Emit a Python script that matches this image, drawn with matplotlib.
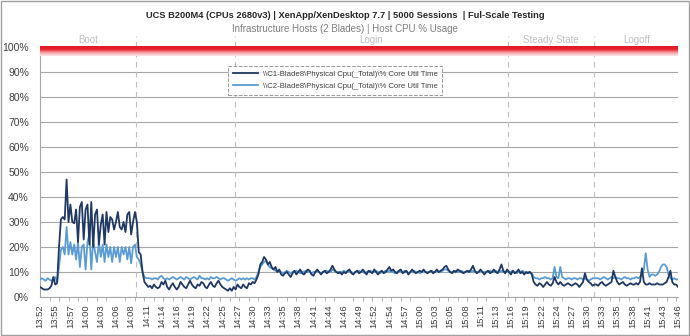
import numpy as np
import matplotlib
matplotlib.use("Agg")
import matplotlib.pyplot as plt
from matplotlib.colors import LinearSegmentedColormap
from matplotlib.patches import Rectangle

# samples every ~20 s, 13:52 -> 15:46
time_labels = ["13:52", "13:55", "13:57", "14:00", "14:03", "14:06", "14:08", "14:11",
               "14:14", "14:16", "14:19", "14:22", "14:25", "14:27", "14:30", "14:33",
               "14:35", "14:38", "14:41", "14:44", "14:46", "14:49", "14:52", "14:54",
               "14:57", "15:00", "15:03", "15:05", "15:08", "15:11", "15:13", "15:16",
               "15:19", "15:22", "15:24", "15:27", "15:30", "15:33", "15:35", "15:38",
               "15:41", "15:43", "15:46"]
label_step = 8

# C1 blade, % core util time
c1_boot = [4, 3.5, 3, 3, 3, 3.5, 4.5, 8, 5, 5.5,
           20, 31, 32, 31, 47, 30, 37, 30, 29.5, 35,
           22, 36, 38, 23, 35, 37, 21, 38, 20, 33,
           35, 21, 29, 33, 21, 34, 26, 32, 31, 27,
           30, 34, 28, 27, 30, 26, 33, 34, 25, 30,
           34, 30, 18, 17, 10, 6, 5, 4]
c1_idle = [4.5, 3.5, 5, 4, 3.5, 4, 6, 5, 6.5, 4,
           3, 4.5, 5.5, 4, 3, 4, 6, 5, 4, 3.5,
           5, 6.5, 5, 4, 3.5, 5, 4.5, 6, 5.5, 4,
           3.5, 5, 6, 4.5, 4, 5.5, 6.5, 5, 4, 3.5,
           3, 2.5, 3.5, 2.5, 4, 3, 5, 4, 3.5, 5,
           4, 3.5, 5.5, 5, 6, 5.5, 7]
c1_login = [9, 13, 14, 16, 15, 13, 14, 12, 11, 12,
            10, 11, 9, 8.5, 9.5, 10, 9, 8, 9.5, 10.5,
            9, 10, 11, 9.5, 9, 10, 11, 10.5, 9, 8.5,
            10, 11, 10, 9, 10, 10.5, 9.5, 10, 11, 12.5,
            11, 10, 9.5, 10, 9, 10, 9.5, 10.5, 11, 9.5,
            9, 10, 10.5, 9.5, 10, 11, 10, 9, 10.5, 10,
            9.5, 11, 10, 9, 10, 10.5, 9.5, 10, 11, 12,
            10.5, 11, 10, 9.5, 10.5, 11, 9.5, 10, 10.5, 9,
            10, 11, 10, 9.5, 10, 10.5, 10, 11, 10, 9.5,
            10, 10.5, 9.5, 10, 11, 10, 10.5, 11, 12, 12.5,
            11, 10, 9.5, 10.5, 10, 11, 10.5, 10, 9.5, 10,
            10.5, 10, 11, 12.5, 10.5, 9.5, 10, 11, 10, 9,
            10, 10.5, 9.5, 10, 11, 10, 9.5, 11, 13, 10.5, 9.5, 11]
c1_steady = [10, 9, 10.5, 9.5, 10, 11, 9.5, 10, 9, 10, 9.5, 10, 9,
             6, 5, 4.5, 5.5, 5, 4, 5, 6, 5, 4.5,
             5.5, 8, 6, 5, 6, 5, 4.5, 5, 5.5, 5,
             4.5, 5, 5.5, 5, 4, 5, 6, 9.5, 7, 6, 5.5, 4.5, 5]
c1_logoff = [5, 4.5, 5.5, 6, 5, 4.5, 5, 5.5, 6, 10.5,
             8, 6, 5, 5.5, 6, 5, 4.5, 5, 5.5, 5,
             5, 5.5, 5, 6, 11.5, 6, 5, 5, 5.5, 5,
             5, 5, 5.5, 5, 5, 5, 5.5, 6, 8, 10.5,
             6, 5, 5, 4]

# C2 blade, % core util time
c2_boot = [7, 7.5, 7, 6.5, 7.5, 7, 6.5, 7, 8, 6,
           12, 19, 20, 17, 28, 17, 22, 17, 21, 15,
           22, 12, 20, 21, 11, 22, 25, 11, 23, 18,
           14, 22, 16, 21, 14, 21, 16, 20, 14, 20,
           16, 20, 14, 20, 17, 20, 15, 20, 13.5, 20,
           21, 16, 15, 13, 10, 8, 7.5, 7.5]
c2_idle = [7.5, 7, 7.5, 7.5, 7, 8, 8.5, 7.5, 7, 7.5,
           7, 7.5, 8, 7.5, 7, 7.5, 8, 7.5, 7, 8,
           7.5, 7, 7.5, 8, 7.5, 7, 8.5, 7.5, 7.5, 7,
           7.5, 7, 8, 7.5, 7.5, 8, 7.5, 7, 7.5, 7.5,
           7, 6.5, 7, 7.5, 7, 6.5, 7, 7.5, 7, 7.5,
           7, 7.5, 7, 7.5, 7.5, 7, 8]
c2_login = [10, 12, 13, 14, 14.5, 13, 12, 11.5, 11, 10.5,
            10, 10.5, 10, 9.5, 10, 10.5, 10, 9.5, 10, 10,
            10.5, 10, 9.5, 10, 10, 10.5, 10, 10, 9.5, 10,
            10, 10.5, 10, 9.5, 10, 10, 10.5, 10, 10, 11,
            10.5, 10, 10, 9.5, 10, 10.5, 10, 10, 10.5, 10,
            9.5, 10, 10, 10.5, 10, 10, 9.5, 10, 10, 10.5,
            10, 10, 10.5, 10, 9.5, 10, 10, 10.5, 10, 10.5,
            10, 10, 9.5, 10, 10.5, 10, 10, 10.5, 10, 9.5,
            10, 10, 10.5, 10, 10, 9.5, 10, 10.5, 10, 10,
            10, 10.5, 10, 10, 10.5, 10, 10, 10.5, 11, 11,
            10.5, 10, 10, 10, 10.5, 10, 10, 10.5, 10, 10,
            10, 10.5, 10, 10.5, 10, 10, 10, 10.5, 10, 10,
            10, 10, 10.5, 10, 10, 10.5, 10, 10, 10.5, 10, 10, 10.5]
c2_steady = [10, 10, 10.5, 10, 9.5, 10, 10, 10.5, 10, 9.5, 10, 10, 9.5,
             8, 7.5, 7.5, 7, 7.5, 7.5, 8, 7.5, 7.5, 7,
             7.5, 12, 8, 7.5, 12, 8, 7.5, 7, 7.5, 7.5,
             7, 7.5, 7.5, 7, 7.5, 7.5, 7, 7.5, 7, 6.5, 7, 7.5, 7.5]
c2_logoff = [7.5, 7.5, 7, 7.5, 8, 7.5, 7, 7.5, 8, 7.5,
             8, 7.5, 7.5, 7, 7.5, 8, 7.5, 7.5, 7, 7.5,
             7.5, 8, 7.5, 8, 9, 11, 17.5, 11, 8, 9,
             9, 8.5, 9, 10, 12, 13, 13, 12, 9, 7.5,
             7, 7.5, 7, 7]

c1 = np.array(c1_boot + c1_idle + c1_login + c1_steady + c1_logoff)
c2 = np.array(c2_boot + c2_idle + c2_login + c2_steady + c2_logoff)

# phase boundaries (sample index) and labels
phase_edges = [50.5, 102.5, 246.5, 292]
phase_names = ["Boot", "Login", "Steady State", "Logoff"]
phase_spans = [(0, 50.5), (102.5, 246.5), (246.5, 292), (292, 336)]

series_names = [r"\\C1-Blade8\Physical Cpu(_Total)\% Core Util Time",
                r"\\C2-Blade8\Physical Cpu(_Total)\% Core Util Time"]

plt.rcParams['font.family'] = ['Liberation Sans', 'DejaVu Sans']

fig = plt.figure(figsize=(6.9, 3.36), dpi=100)
ax = fig.add_axes([0.058, 0.1161, 0.9246, 0.744])

x = np.arange(len(c1))
ax.plot(x, c1, color="#203864", lw=1.3, label=series_names[0], zorder=4)
ax.plot(x, c2, color="#5b9bd5", lw=1.3, label=series_names[1], zorder=3)

ax.set_xlim(0, len(c1) - 1)
ax.set_ylim(0, 100)
ax.set_yticks(range(0, 101, 10))
ax.set_yticklabels([f"{v}%" for v in range(0, 101, 10)], fontsize=7.5, color="#404040")
ax.yaxis.grid(True, color="#a6a6a6", lw=0.8)
ax.set_axisbelow(True)
ax.tick_params(axis="y", length=0, pad=8)

ax.set_xticks(np.arange(0, len(c1), label_step))
ax.set_xticklabels(time_labels, rotation=90, fontsize=6.8, color="#404040")
ax.set_xticks(np.arange(0, len(c1), 5), minor=True)
ax.tick_params(axis="x", which="major", length=0, pad=5)
ax.tick_params(axis="x", which="minor", length=3, color="#a6a6a6")

for side in ["top", "right"]:
    ax.spines[side].set_visible(False)
for side in ["left", "bottom"]:
    ax.spines[side].set_color("#a6a6a6")
    ax.spines[side].set_linewidth(0.8)

# 100% threshold band, red fading to pale pink
band = LinearSegmentedColormap.from_list("band", ["#fde8ea", "#f7a3a8", "#e8222c", "#e01a24"])
ax.imshow(np.linspace(0, 1, 50).reshape(-1, 1), cmap=band, aspect="auto",
          extent=(0, len(c1) - 1, 96.6, 100.4), origin="lower", zorder=5, clip_on=False)

# phase dividers and names
for e in phase_edges:
    ax.axvline(e, ymin=0, ymax=1.045, color="#bfbfbf", lw=0.8, ls=(0, (5, 4)),
               clip_on=False, zorder=2)
for name, (a, b) in zip(phase_names, phase_spans):
    ax.text((a + b) / 2, 102.9, name, ha="center", va="center", fontsize=7,
            color="#bfbfbf")

leg = ax.legend(loc="upper left", bbox_to_anchor=(0.289, 0.94), fontsize=5.6,
                frameon=True, fancybox=False, handlelength=3.2, borderpad=0.6,
                labelspacing=0.6, handletextpad=0.6)
frame = leg.get_frame()
frame.set_linestyle("--")
frame.set_edgecolor("#808080")
frame.set_linewidth(0.7)
for t in leg.get_texts():
    t.set_color("#404040")

fig.text(0.5, 0.955, "UCS B200M4 (CPUs 2680v3) | XenApp/XenDesktop 7.7 | 5000 Sessions  | Ful-Scale Testing",
         ha="center", va="center", fontsize=6.7, fontweight="bold", color="#262626")
fig.text(0.5, 0.915, "Infrastructure Hosts (2 Blades) | Host CPU % Usage",
         ha="center", va="center", fontsize=7, color="#7f7f7f")

fig.patches.append(Rectangle((0.001, 0.002), 0.997, 0.995, transform=fig.transFigure,
                             fill=False, edgecolor="#a0a0a0", lw=1))

fig.savefig("out.png", dpi=100)
